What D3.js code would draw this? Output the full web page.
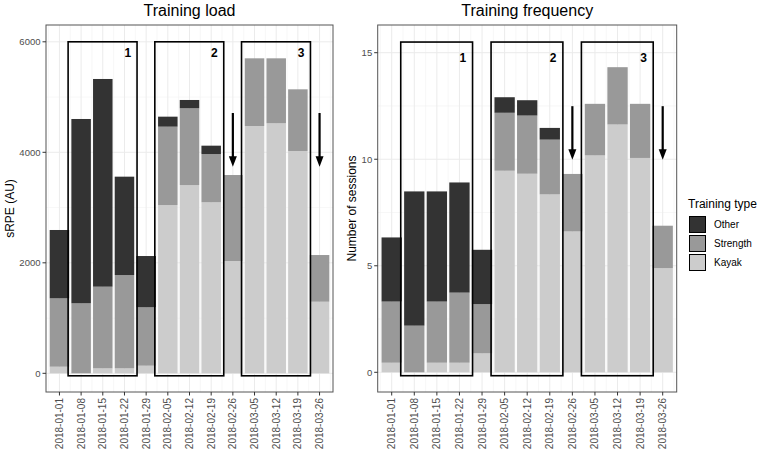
<!DOCTYPE html>
<html>
<head>
<meta charset="utf-8">
<script src="https://cdn.jsdelivr.net/npm/d3@7/dist/d3.min.js"></script>
<style>
  html, body { margin: 0; padding: 0; background: #fff; }
  svg { display: block; font-family: "Liberation Sans", Arial, sans-serif; }
</style>
</head>
<body>
<svg id="chart" width="760" height="453"></svg>
<script>
// ---------- data ----------
const weeks = ["2018-01-01","2018-01-08","2018-01-15","2018-01-22","2018-01-29","2018-02-05","2018-02-12","2018-02-19","2018-02-26","2018-03-05","2018-03-12","2018-03-19","2018-03-26"];
const trainingTypes = ["Other", "Strength", "Kayak"];

const loadKayak    = [120,    0,   90,   90,  138, 3046, 3408, 3095, 2033, 4476, 4525, 4024, 1296];
const loadStrength = [1237, 1267, 1478, 1689, 1057, 1418, 1389,  874, 1556, 1225, 1176, 1116,  845];
const loadOther    = [1237, 3336, 3759, 1780,  928,  181,  150,  151,    0,    0,    0,    0,    0];

const freqKayak    = [0.45, 0.00, 0.45, 0.45, 0.89, 9.46, 9.32, 8.35, 6.61, 10.18, 11.63, 10.06, 4.89];
const freqStrength = [2.87, 2.19, 2.87, 3.29, 2.31, 2.72, 2.73, 2.57, 2.70,  2.42,  2.69,  2.54, 1.99];
const freqOther    = [3.01, 6.30, 5.17, 5.17, 2.55, 0.73, 0.72, 0.55, 0.00,  0.00,  0.00,  0.00, 0.00];

const blockLabels = ["1", "2", "3"];
const blockStart  = ["2018-01-08", "2018-02-05", "2018-03-05"];
const blockEnd    = ["2018-01-22", "2018-02-19", "2018-03-19"];
const arrowWeeks  = ["2018-02-26", "2018-03-26"];

const loadTicks = [0, 2000, 4000, 6000];
const loadMinor = [1000, 3000, 5000];
const freqTicks = [0, 5, 10, 15];
const freqMinor = [2.5, 7.5, 12.5];

// ---------- style ----------
const fillColors = { Other: "#333333", Strength: "#999999", Kayak: "#cccccc" };

const svg = d3.select("#chart");

function panel(cfg) {
  const { x0, x1, y0, y1, yDomain, kayak, strength, other, ticks, minor,
          title, yTitle, yTitleX, boxTop, boxBottom, labelY, arrowFrom, arrowTo } = cfg;

  const x = d3.scaleBand().domain(weeks).range([x0, x1]).paddingInner(0.1).paddingOuter(0.17);
  const step = x.step();
  const cx = w => x(w) + x.bandwidth() / 2;
  const y = d3.scaleLinear().domain(yDomain).range([y1, y0]);

  const g = svg.append("g");

  // panel background + grid
  g.append("rect").attr("x", x0).attr("y", y0).attr("width", x1 - x0).attr("height", y1 - y0)
    .attr("fill", "#fff");
  const grid = g.append("g");
  const minorX = [];
  weeks.forEach(w => { minorX.push(cx(w) - step / 2); });
  minorX.push(cx(weeks[weeks.length - 1]) + step / 2);
  grid.selectAll("line.vminor").data(minorX).join("line")
    .attr("x1", d => d).attr("x2", d => d).attr("y1", y0).attr("y2", y1)
    .attr("stroke", "#f2f2f2").attr("stroke-width", 0.6);
  grid.selectAll("line.hminor").data(minor).join("line")
    .attr("x1", x0).attr("x2", x1).attr("y1", d => y(d)).attr("y2", d => y(d))
    .attr("stroke", "#f2f2f2").attr("stroke-width", 0.6);
  grid.selectAll("line.vmajor").data(weeks).join("line")
    .attr("x1", d => cx(d)).attr("x2", d => cx(d)).attr("y1", y0).attr("y2", y1)
    .attr("stroke", "#ebebeb").attr("stroke-width", 1);
  grid.selectAll("line.hmajor").data(ticks).join("line")
    .attr("x1", x0).attr("x2", x1).attr("y1", d => y(d)).attr("y2", d => y(d))
    .attr("stroke", "#ebebeb").attr("stroke-width", 1);

  // stacked bars
  const rows = weeks.map((w, i) => ({ week: w, Kayak: kayak[i], Strength: strength[i], Other: other[i] }));
  const stack = d3.stack().keys(["Kayak", "Strength", "Other"])(rows);
  g.selectAll("g.layer").data(stack).join("g")
    .attr("fill", d => fillColors[d.key])
    .selectAll("rect").data(d => d).join("rect")
    .attr("x", d => x(d.data.week))
    .attr("width", x.bandwidth())
    .attr("y", d => y(d[1]))
    .attr("height", d => Math.max(0, y(d[0]) - y(d[1])));

  // block rectangles
  blockLabels.forEach((lab, i) => {
    const bx0 = cx(blockStart[i]) - 0.6 * step;
    const bx1 = cx(blockEnd[i]) + 0.58 * step;
    g.append("rect").attr("x", bx0).attr("y", y(boxTop))
      .attr("width", bx1 - bx0).attr("height", y(boxBottom) - y(boxTop))
      .attr("fill", "none").attr("stroke", "#000").attr("stroke-width", 1.6);
    g.append("text").attr("x", cx(blockEnd[i]) + 0.15 * step).attr("y", y(labelY))
      .attr("dy", "0.36em").attr("text-anchor", "middle")
      .attr("font-size", 12).attr("font-weight", "bold").attr("fill", "#000").text(lab);
  });

  // arrows
  arrowWeeks.forEach(w => {
    const ax = cx(w);
    const yt = y(arrowTo);
    g.append("line").attr("x1", ax).attr("x2", ax).attr("y1", y(arrowFrom)).attr("y2", yt - 8)
      .attr("stroke", "#000").attr("stroke-width", 2.2);
    g.append("path")
      .attr("d", `M${ax - 4},${yt - 10.5} L${ax + 4},${yt - 10.5} L${ax},${yt} Z`)
      .attr("fill", "#000");
  });

  // border
  g.append("rect").attr("x", x0).attr("y", y0).attr("width", x1 - x0).attr("height", y1 - y0)
    .attr("fill", "none").attr("stroke", "#555").attr("stroke-width", 1);

  // y axis ticks + labels
  g.selectAll("line.yt").data(ticks).join("line")
    .attr("x1", x0 - 3.5).attr("x2", x0).attr("y1", d => y(d)).attr("y2", d => y(d))
    .attr("stroke", "#333").attr("stroke-width", 1);
  g.selectAll("text.yl").data(ticks).join("text")
    .attr("x", x0 - 5.5).attr("y", d => y(d)).attr("dy", "0.35em")
    .attr("text-anchor", "end").attr("font-size", 9.5).attr("fill", "#4d4d4d")
    .text(d => d);

  // x axis ticks + labels
  g.selectAll("line.xt").data(weeks).join("line")
    .attr("x1", d => cx(d)).attr("x2", d => cx(d)).attr("y1", y1).attr("y2", y1 + 3.5)
    .attr("stroke", "#333").attr("stroke-width", 1);
  g.selectAll("text.xl").data(weeks).join("text")
    .attr("transform", d => `translate(${cx(d)},${y1 + 6}) rotate(-90)`)
    .attr("dy", "0.35em").attr("text-anchor", "end")
    .attr("font-size", 10).attr("fill", "#4d4d4d").text(d => d);

  // titles
  g.append("text").attr("x", (x0 + x1) / 2).attr("y", 16).attr("text-anchor", "middle")
    .attr("font-size", 16).attr("fill", "#000").text(title);
  g.append("text").attr("transform", `translate(${yTitleX},${(y0 + y1) / 2}) rotate(-90)`)
    .attr("dy", "0.35em").attr("text-anchor", "middle")
    .attr("font-size", 12).attr("fill", "#000").text(yTitle);
}

panel({
  x0: 46, x1: 333, y0: 25, y1: 392, yDomain: [-338, 6304],
  kayak: loadKayak, strength: loadStrength, other: loadOther,
  ticks: loadTicks, minor: loadMinor,
  title: "Training load", yTitle: "sRPE (AU)", yTitleX: 10,
  boxTop: 6000, boxBottom: -45, labelY: 5800, arrowFrom: 4711, arrowTo: 3740
});

panel({
  x0: 377.7, x1: 676.7, y0: 25, y1: 392, yDomain: [-0.924, 16.30],
  kayak: freqKayak, strength: freqStrength, other: freqOther,
  ticks: freqTicks, minor: freqMinor,
  title: "Training frequency", yTitle: "Number of sessions", yTitleX: 352,
  boxTop: 15.5, boxBottom: -0.16, labelY: 14.75, arrowFrom: 12.49, arrowTo: 9.98
});

// legend
const lg = svg.append("g");
lg.append("text").attr("x", 688).attr("y", 208).attr("font-size", 12).attr("fill", "#000")
  .text("Training type");
trainingTypes.forEach((t, i) => {
  const ky = 216 + i * 19;
  lg.append("rect").attr("x", 689.5).attr("y", ky + 0.5).attr("width", 16).attr("height", 16)
    .attr("fill", fillColors[t]).attr("stroke", "#000").attr("stroke-width", 1);
  lg.append("text").attr("x", 714).attr("y", ky + 8.5).attr("dy", "0.35em")
    .attr("font-size", 10).attr("fill", "#000").text(t);
});
</script>
</body>
</html>
